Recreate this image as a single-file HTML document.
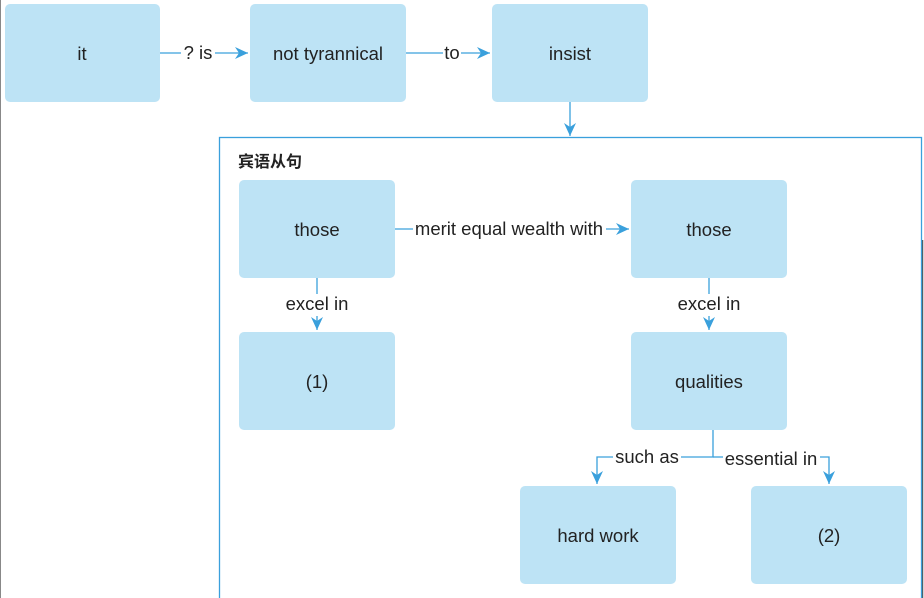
<!DOCTYPE html>
<html><head><meta charset="utf-8"><style>
html,body{margin:0;padding:0;background:#fff;width:924px;height:598px;overflow:hidden}
text{font-family:"Liberation Sans","Noto Sans CJK SC",sans-serif;font-size:18.5px;fill:#222}
</style></head><body>
<svg width="924" height="598" xmlns="http://www.w3.org/2000/svg">
<defs><marker id="a" markerWidth="14" markerHeight="14" refX="13" refY="6" orient="auto" markerUnits="userSpaceOnUse"><path d="M0,0 L13,6 L0,12 L4,6 z" fill="#3aa0dc"/></marker></defs>
<line x1="0.5" y1="0" x2="0.5" y2="598" stroke="#888" stroke-width="1"/>
<line x1="922.5" y1="240" x2="922.5" y2="598" stroke="#555" stroke-width="1.5"/>
<rect x="219.5" y="137.5" width="702" height="470" fill="none" stroke="#3aa0dc" stroke-width="1.3"/>
<text x="238" y="167" style="font-size:16px;font-weight:bold">宾语从句</text>
<g fill="#bde3f5">
<rect x="5" y="4" width="155" height="98" rx="5"/>
<rect x="250" y="4" width="156" height="98" rx="5"/>
<rect x="492" y="4" width="156" height="98" rx="5"/>
<rect x="239" y="180" width="156" height="98" rx="5"/>
<rect x="631" y="180" width="156" height="98" rx="5"/>
<rect x="239" y="332" width="156" height="98" rx="5"/>
<rect x="631" y="332" width="156" height="98" rx="5"/>
<rect x="520" y="486" width="156" height="98" rx="5"/>
<rect x="751" y="486" width="156" height="98" rx="5"/>
</g>
<g text-anchor="middle">
<text x="82" y="60">it</text>
<text x="328" y="60">not tyrannical</text>
<text x="570" y="60">insist</text>
<text x="317" y="236">those</text>
<text x="709" y="236">those</text>
<text x="317" y="388">(1)</text>
<text x="709" y="388">qualities</text>
<text x="598" y="542">hard work</text>
<text x="829" y="542">(2)</text>
</g>
<g stroke="#3aa0dc" stroke-width="1.3" fill="none">
<path d="M160,53 H181"/><path d="M215,53 H248" marker-end="url(#a)"/>
<path d="M406,53 H443"/><path d="M461,53 H490" marker-end="url(#a)"/>
<path d="M570,102 V136" marker-end="url(#a)"/>
<path d="M395,229 H413"/><path d="M606,229 H629" marker-end="url(#a)"/>
<path d="M317,278 V294"/><path d="M317,316 V330" marker-end="url(#a)"/>
<path d="M709,278 V294"/><path d="M709,316 V330" marker-end="url(#a)"/>
<path d="M713,430 V457 H681"/><path d="M613,457 H597 V484" marker-end="url(#a)"/>
<path d="M713,457 H723"/><path d="M820,457 H829 V484" marker-end="url(#a)"/>
</g>
<g text-anchor="middle">
<text x="198" y="59">? is</text>
<text x="452" y="59">to</text>
<text x="509" y="235">merit equal wealth with</text>
<text x="317" y="310">excel in</text>
<text x="709" y="310">excel in</text>
<text x="647" y="463">such as</text>
<text x="771" y="465">essential in</text>
</g>
</svg>
</body></html>
